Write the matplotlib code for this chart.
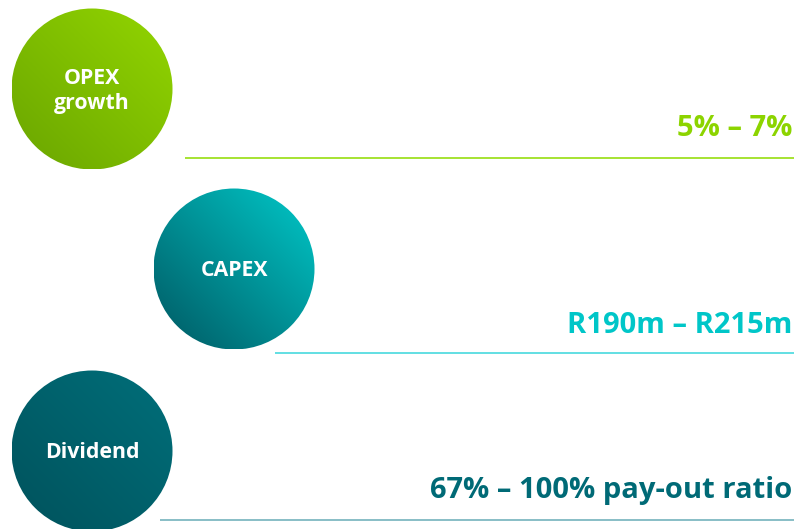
import numpy as np
import matplotlib
matplotlib.use("Agg")
import matplotlib.pyplot as plt
from matplotlib.patches import Circle
from matplotlib.colors import LinearSegmentedColormap

# Data
categories = ["OPEX\ngrowth", "CAPEX", "Dividend"]
values = ["5% \u2013 7%", "R190m \u2013 R215m", "67% \u2013 100% pay-out ratio"]

# Styles
light_cols = ["#93d600", "#00c9c9", "#006f7a"]
dark_cols = ["#6aa500", "#005862", "#00525c"]
text_cols = ["#8cd400", "#00c6c8", "#006a76"]
line_cols = ["#9fe022", "#55dce0", "#7fb9c2"]

# Layout (pixels)
centers = [(92, 89), (234, 269), (92, 451)]
radius = 80.5
line_y = [158, 353, 520]
line_x0 = [185, 275, 160]
line_x1 = 794
value_x = 792
value_base = [136, 333, 498]

W, H = 798, 529
fig = plt.figure(figsize=(W / 100, H / 100), dpi=100)
ax = fig.add_axes([0, 0, 1, 1])
ax.set_xlim(0, W)
ax.set_ylim(H, 0)
ax.axis("off")

plt.rcParams['font.family'] = ['Open Sans', 'DejaVu Sans']

for i, (cx, cy) in enumerate(centers):
    cmap = LinearSegmentedColormap.from_list(f"g{i}", [dark_cols[i], light_cols[i]])
    n = 200
    xs = np.linspace(-1, 1, n)
    X, Y = np.meshgrid(xs, xs)
    grad = (X - Y + 2) / 4
    im = ax.imshow(cmap(grad), extent=(cx - radius, cx + radius, cy + radius, cy - radius),
                   interpolation="bilinear", zorder=2)
    circ = Circle((cx, cy), radius, transform=ax.transData, facecolor="none", edgecolor="none")
    ax.add_patch(circ)
    im.set_clip_path(circ)
    ax.text(cx, cy + 2, categories[i], color="white", fontsize=15.3, fontweight="bold",
            ha="center", va="center", linespacing=1.3, zorder=3)

for i in range(3):
    ax.plot([line_x0[i], line_x1], [line_y[i], line_y[i]], color=line_cols[i], lw=1.3, zorder=1,
            solid_capstyle="butt")
    ax.text(value_x, value_base[i], values[i], color=text_cols[i], fontsize=21, fontweight="bold",
            ha="right", va="baseline", zorder=3)

ax.set_xlim(0, W)
ax.set_ylim(H, 0)
fig.savefig("out.png", dpi=100)
